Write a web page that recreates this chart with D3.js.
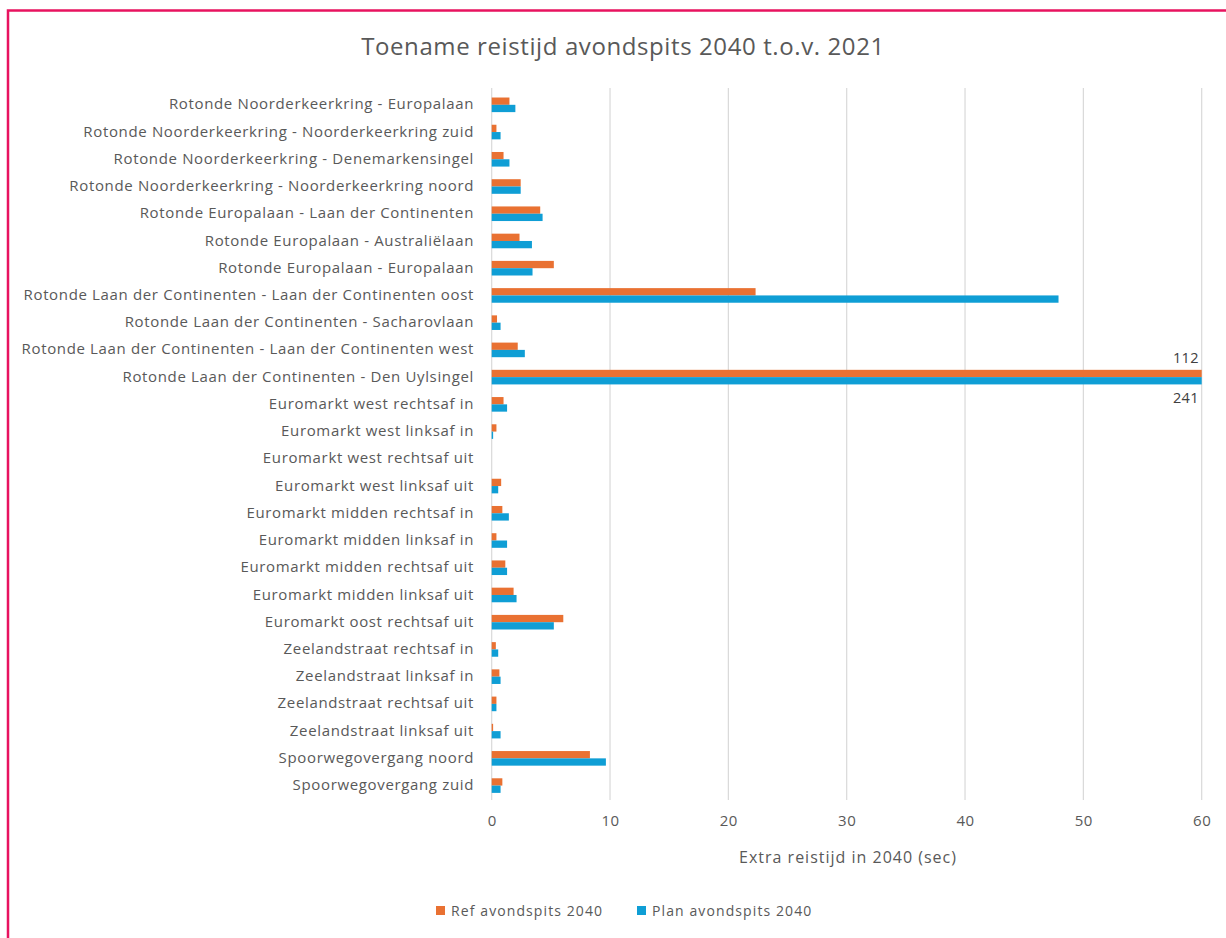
<!DOCTYPE html>
<html><head><meta charset="utf-8">
<script src="https://cdn.jsdelivr.net/npm/d3@7"></script>
<style>
html,body{margin:0;padding:0;background:#fff;}
svg{display:block;}
text{font-family:"Open Sans","Noto Sans",sans-serif;}
</style></head>
<body>
<svg id="chart" width="1226" height="938"></svg>
<script>
const title = "Toename reistijd avondspits 2040 t.o.v. 2021";
const axisTitle = "Extra reistijd in 2040 (sec)";
const categories = [
  "Rotonde Noorderkeerkring - Europalaan",
  "Rotonde Noorderkeerkring - Noorderkeerkring zuid",
  "Rotonde Noorderkeerkring - Denemarkensingel",
  "Rotonde Noorderkeerkring - Noorderkeerkring noord",
  "Rotonde Europalaan - Laan der Continenten",
  "Rotonde Europalaan - Australiëlaan",
  "Rotonde Europalaan - Europalaan",
  "Rotonde Laan der Continenten - Laan der Continenten oost",
  "Rotonde Laan der Continenten - Sacharovlaan",
  "Rotonde Laan der Continenten - Laan der Continenten west",
  "Rotonde Laan der Continenten - Den Uylsingel",
  "Euromarkt west rechtsaf in",
  "Euromarkt west linksaf in",
  "Euromarkt west rechtsaf uit",
  "Euromarkt west linksaf uit",
  "Euromarkt midden rechtsaf in",
  "Euromarkt midden linksaf in",
  "Euromarkt midden rechtsaf uit",
  "Euromarkt midden linksaf uit",
  "Euromarkt oost rechtsaf uit",
  "Zeelandstraat rechtsaf in",
  "Zeelandstraat linksaf in",
  "Zeelandstraat rechtsaf uit",
  "Zeelandstraat linksaf uit",
  "Spoorwegovergang noord",
  "Spoorwegovergang zuid"
];
const seriesNames = ["Ref avondspits 2040", "Plan avondspits 2040"];
const refValues = [1.5, 0.4, 1.0, 2.45, 4.1, 2.35, 5.25, 22.3, 0.45, 2.2, 112, 1.0, 0.4, 0, 0.8, 0.9, 0.4, 1.15, 1.85, 6.05, 0.35, 0.65, 0.4, 0.12, 8.3, 0.9];
const planValues = [2.0, 0.75, 1.5, 2.45, 4.3, 3.4, 3.45, 47.9, 0.75, 2.8, 241, 1.3, 0.12, 0, 0.55, 1.45, 1.3, 1.3, 2.1, 5.25, 0.55, 0.75, 0.4, 0.75, 9.65, 0.75];
const xTicks = [0, 10, 20, 30, 40, 50, 60];
const colors = ["#E97132", "#0F9ED5"];

const svg = d3.select("#chart");
const textColor = "#595959";

// frame
svg.append("rect").attr("x", 8).attr("y", 10.5).attr("width", 1240).attr("height", 960)
  .attr("fill", "none").attr("stroke", "#E8135F").attr("stroke-width", 2.5);

const x = d3.scaleLinear().domain([0, 60]).range([491.7, 1201.7]).clamp(true);
const y = d3.scaleBand().domain(categories).range([90.5, 798.5]);

// gridlines
svg.append("g").selectAll("line").data(xTicks).join("line")
  .attr("x1", d => x(d)).attr("x2", d => x(d))
  .attr("y1", 88).attr("y2", 800)
  .attr("stroke", "#d9d9d9").attr("stroke-width", 1.2);

// bars
const barH = 7.3;
const rows = categories.map((c, i) => ({c, vals: [refValues[i], planValues[i]]}));
const g = svg.append("g");
rows.forEach(r => {
  r.vals.forEach((v, k) => {
    g.append("rect")
      .attr("x", x(0))
      .attr("y", y(r.c) + y.bandwidth() / 2 + 0.7 - barH + k * barH)
      .attr("width", Math.max(0, x(v) - x(0)))
      .attr("height", barH)
      .attr("fill", colors[k]);
  });
});

// category labels
svg.append("g").selectAll("text").data(categories).join("text")
  .attr("x", 474).attr("y", d => y(d) + y.bandwidth() / 2)
  .attr("dy", "0.35em").attr("text-anchor", "end")
  .attr("font-size", 15).attr("letter-spacing", 0.65).attr("fill", textColor).text(d => d);

// x axis tick labels
const xAxis = d3.axisBottom(x).tickValues(xTicks).tickSize(0).tickPadding(0);
const ax = svg.append("g").attr("transform", "translate(0,815)").call(xAxis);
ax.select(".domain").remove();
ax.selectAll("text").attr("font-size", 15).attr("letter-spacing", 0.5).attr("fill", textColor)
  .style("font-family", '"Open Sans","Noto Sans",sans-serif');

// capped data labels
const capIdx = categories.indexOf("Rotonde Laan der Continenten - Den Uylsingel");
const cy = y(categories[capIdx]) + y.bandwidth() / 2;
svg.append("text").attr("x", 1199).attr("y", cy - 18).attr("dy", "0.35em")
  .attr("text-anchor", "end").attr("font-size", 14.5).attr("letter-spacing", 0.4).attr("fill", "#404040").text(refValues[capIdx]);
svg.append("text").attr("x", 1199).attr("y", cy + 22).attr("dy", "0.35em")
  .attr("text-anchor", "end").attr("font-size", 14.5).attr("letter-spacing", 0.4).attr("fill", "#404040").text(planValues[capIdx]);

// title
svg.append("text").attr("x", 623).attr("y", 47).attr("dy", "0.35em")
  .attr("text-anchor", "middle").attr("font-size", 24).attr("letter-spacing", 0.6).attr("fill", textColor).text(title);

// axis title
svg.append("text").attr("x", 848).attr("y", 857).attr("dy", "0.35em")
  .attr("text-anchor", "middle").attr("font-size", 16).attr("letter-spacing", 1).attr("fill", textColor).text(axisTitle);

// legend
const legX = [436, 637];
seriesNames.forEach((s, k) => {
  svg.append("rect").attr("x", legX[k]).attr("y", 906).attr("width", 9).attr("height", 9).attr("fill", colors[k]);
  svg.append("text").attr("x", legX[k] + 15).attr("y", 911).attr("dy", "0.35em")
    .attr("font-size", 14).attr("letter-spacing", 1.1).attr("fill", textColor).text(s);
});
</script>
</body></html>
